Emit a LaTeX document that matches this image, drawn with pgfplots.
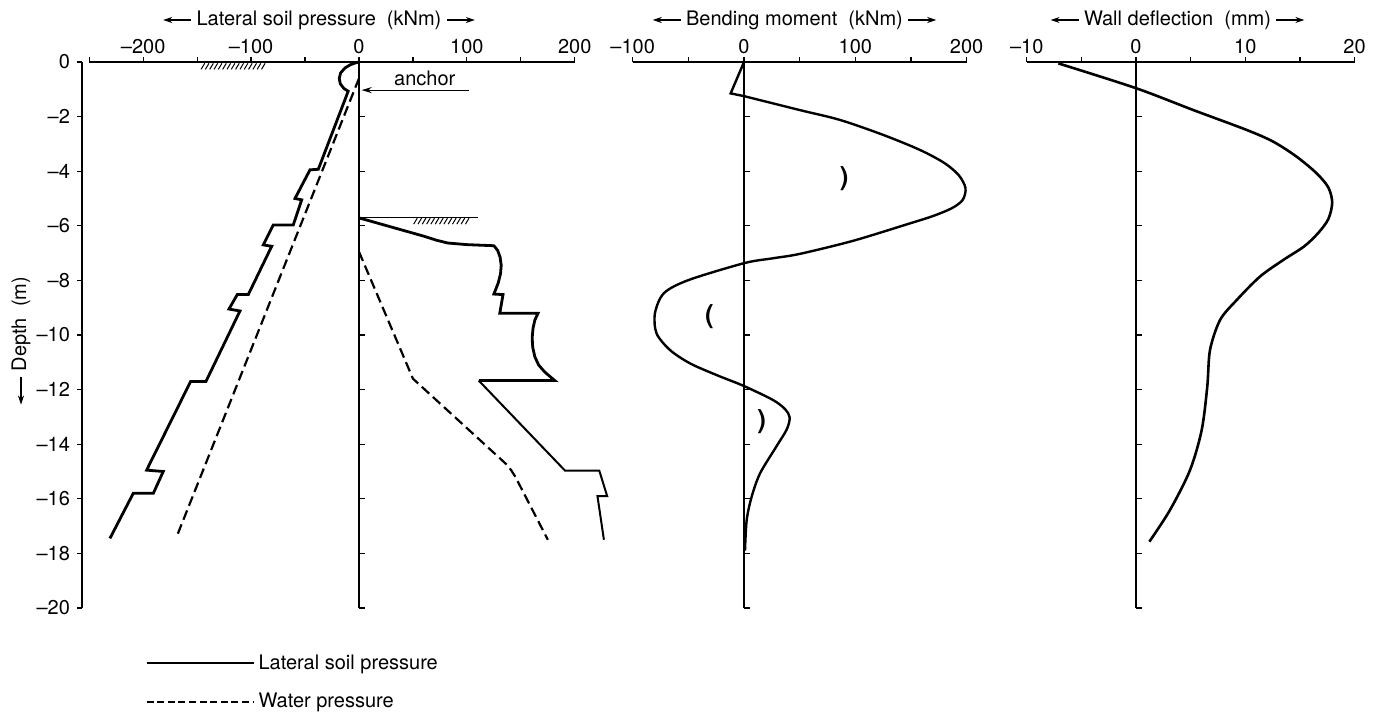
\documentclass[border=0pt]{standalone}
\usepackage{fontspec}
\setmainfont{TeX Gyre Heros}
\usepackage{pgfplots}
\pgfplotsset{compat=1.18}
\usetikzlibrary{arrows.meta}
\pgfplotsset{
  panel/.style={
    ymin=-20, ymax=0, y=13.65pt,
    axis x line*=top,
    x axis line style={draw=none},
    tick align=outside,
    major tick length=2.5pt,
    tick style={black, line width=0.6pt},
    clip=false,
    anchor=south west,
    xticklabel style={inner sep=1.5pt},
  },
}
\begin{document}
\begin{tikzpicture}
\path[use as bounding box] (0,0) rectangle (689.5pt,356pt);
% ---------------- Panel 1: lateral soil pressure ----------------
\begin{axis}[panel, at={(41pt,52pt)}, x=0.5395pt, xmin=-256.7, xmax=200,
  axis y line*=left,
  y axis line style={line width=0.8pt},
  xtick={-250,-200,...,200}, xticklabels={,–200,,–100,,0,,100,,200},
  ytick={-20,-18,...,0}, yticklabels={–20,–18,–16,–14,–12,–10,–8,–6,–4,–2,0},
  legend style={at={(0.116,-0.07)}, anchor=north west, draw=none, fill=none,
    row sep=6.5pt, cells={anchor=west}},
]
\addplot[line width=1.4pt, legend image code/.code={\draw[line width=1pt] (0pt,0pt) -- (53.5pt,0pt);}] coordinates {
(0,0) (-3,-0.03) (-8,-0.1) (-13,-0.22) (-17,-0.4) (-18.3,-0.6) (-17.3,-0.8) (-14,-0.97) (-10,-1.07)
(-37.7,-3.93) (-45.4,-3.95) (-59.3,-5.0) (-53.1,-5.05) (-60.9,-5.97) (-79.4,-5.97) (-88.7,-6.7)
(-80.9,-6.75) (-102.6,-8.52) (-112.8,-8.52) (-120.5,-9.05) (-110.3,-9.12) (-141.8,-11.7) (-156,-11.7)
(-196.8,-14.95) (-181.4,-15.0) (-190.6,-15.8) (-209.2,-15.8) (-230.8,-17.45)};
\addlegendentry{Lateral soil pressure}
\addplot[line width=1.1pt, dash pattern=on 5pt off 2.5pt,
  legend image code/.code={\draw[line width=1pt, dash pattern=on 3.5pt off 1.8pt] (0pt,0pt) -- (53.5pt,0pt);}] coordinates {
(0,-0.6) (-169,-17.39)};
\addlegendentry{Water pressure}
\addplot[line width=1.4pt, forget plot] coordinates {
(0,-5.71) (60,-6.38) (72,-6.53) (82,-6.63) (100,-6.69) (125,-6.73) (128.5,-6.9) (130.8,-7.15)
(131.8,-7.45) (131.2,-7.75) (129,-8.1) (126.5,-8.35) (125,-8.5) (133.5,-8.52) (130.5,-9.2) (166,-9.2)
(163,-9.45) (161.3,-9.75) (160.5,-10.1) (161,-10.45) (163,-10.8) (166.5,-11.1) (172,-11.35)
(177,-11.52) (181.5,-11.67) (111,-11.67)};
\addplot[line width=1.0pt, forget plot] coordinates {
(111,-11.67) (191,-14.97) (222.7,-14.97) (230,-15.9) (221,-15.9) (227,-17.5)};
\addplot[line width=1.1pt, dash pattern=on 5pt off 2.5pt, forget plot] coordinates {
(0,-6.95) (50,-11.6) (137,-14.75) (141,-14.95) (145,-15.2) (175,-17.5)};
% axis line, wall, ticks
\draw[line width=0.8pt] (axis cs:-250,0) -- (axis cs:200,0);
\draw[line width=0.8pt] (axis cs:0,0) -- (axis cs:0,-20);
\pgfplotsinvokeforeach{-2,-4,...,-20}{\draw[line width=0.6pt] (axis cs:0,#1) -- ++(3pt,0pt);}
% ground hatch
\pgfplotsinvokeforeach{-143,-139,...,-87}{\draw[line width=0.5pt] (axis cs:#1,-0.05) -- ++(-1.8pt,-3pt);}
\draw[line width=0.6pt] (axis cs:0,-5.7) -- (axis cs:110,-5.7);
\pgfplotsinvokeforeach{54,58,...,100}{\draw[line width=0.5pt] (axis cs:#1,-5.72) -- ++(-1.8pt,-3pt);}
% anchor
\draw[line width=0.6pt, -{Stealth[length=5pt,width=3pt]}] (axis cs:102,-1.03) -- (axis cs:2.5,-1.03);
\node at (axis cs:61,-0.6) {anchor};
\end{axis}
% ---------------- Panel 2: bending moment ----------------
\begin{axis}[panel, at={(316.35pt,52pt)}, x=0.5565pt, xmin=-100, xmax=200,
  axis y line=none,
  xtick={-100,-50,...,200}, xticklabels={–100,,0,,100,,200},
]
\addplot[line width=1.2pt] coordinates {(0,0) (-12,-1.15) (0,-1.25)};
\addplot[line width=1.2pt, smooth] coordinates {
(0,-1.25) (50,-1.76) (86,-2.12) (125,-2.67) (158,-3.22) (180,-3.7) (193,-4.15) (199,-4.62)
(196.5,-5.05) (187,-5.35) (170,-5.64) (150,-5.9) (98,-6.55) (50,-7.03) (26,-7.19) (0,-7.37) (-50,-7.99)
(-72,-8.47) (-80,-9.2) (-78.6,-9.94) (-66.5,-10.55) (-48.5,-11.04) (-24.5,-11.47) (0,-11.87)
(26,-12.38) (37,-12.72) (41,-13.02) (38.5,-13.45) (29,-14.09) (14.4,-15.07) (6.9,-15.92) (2.4,-16.78) (0.9,-17.9)};
\draw[line width=0.8pt] (axis cs:-100,0) -- (axis cs:200,0);
\draw[line width=0.8pt] (axis cs:0,0) -- (axis cs:0,-20);
\pgfplotsinvokeforeach{-2,-4,...,-20}{\draw[line width=0.6pt] (axis cs:0,#1) -- ++(3pt,0pt);}
\node[font=\fontsize{13}{15}\bfseries] at (axis cs:90,-4.28) {)};
\node[font=\fontsize{13}{15}\bfseries] at (axis cs:-31,-9.34) {(};
\node[font=\fontsize{13}{15}\bfseries] at (axis cs:16,-13.17) {)};
\end{axis}
% ---------------- Panel 3: wall deflection ----------------
\begin{axis}[panel, at={(513.35pt,52pt)}, x=5.465pt, xmin=-10, xmax=20,
  axis y line=none,
  xtick={-10,-5,...,20}, xticklabels={–10,,0,,10,,20},
]
\addplot[line width=1.3pt, smooth] coordinates {
(-7.11,-0.05) (0,-0.96) (5.24,-1.76) (10.13,-2.49) (12.56,-2.92) (14.7,-3.47) (16.53,-4.08)
(17.6,-4.6) (17.95,-5.15) (17.6,-5.75) (16.7,-6.25) (15.4,-6.75) (13.48,-7.25) (11.34,-7.86) (9.21,-8.72)
(7.69,-9.45) (6.77,-10.55) (6.52,-11.89) (6.01,-13.48) (4.94,-14.95) (3.11,-16.41) (1.22,-17.57)};
\draw[line width=0.8pt] (axis cs:-10,0) -- (axis cs:20,0);
\draw[line width=0.8pt] (axis cs:0,0) -- (axis cs:0,-20);
\pgfplotsinvokeforeach{-2,-4,...,-20}{\draw[line width=0.6pt] (axis cs:0,#1) -- ++(3pt,0pt);}
\end{axis}
% ---------------- titles ----------------
\tikzset{tarr/.style={line width=0.6pt, -{Stealth[length=4.5pt,width=3pt]}}}
\node[inner sep=2.5pt] (t1) at (159.5pt,346pt) {Lateral soil pressure\ \ (kNm)};
\draw[tarr] (t1.west) -- ++(-14pt,0pt);
\draw[tarr] (t1.east) -- ++(14pt,0pt);
\node[inner sep=2.5pt] (t2) at (397.25pt,346pt) {Bending moment\ \ (kNm)};
\draw[tarr] (t2.west) -- ++(-14pt,0pt);
\draw[tarr] (t2.east) -- ++(14pt,0pt);
\node[inner sep=2.5pt] (t3) at (588.75pt,346pt) {Wall deflection\ \ (mm)};
\draw[tarr] (t3.west) -- ++(-14pt,0pt);
\draw[tarr] (t3.east) -- ++(14pt,0pt);
\node[rotate=90, inner sep=2.5pt] (yl) at (10.5pt,194pt) {Depth\ \ (m)};
\draw[tarr] (yl.west) -- ++(0pt,-14pt);
\end{tikzpicture}
\end{document}
